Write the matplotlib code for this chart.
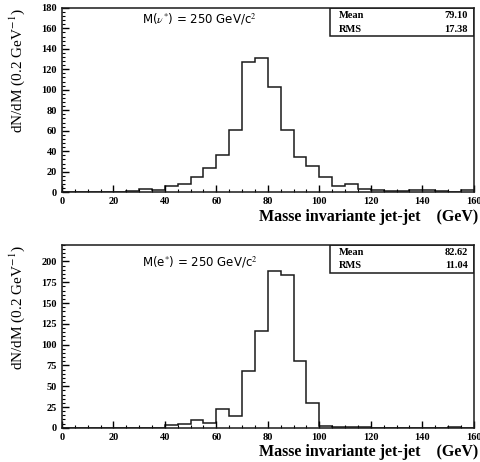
import numpy as np
import matplotlib
matplotlib.use("Agg")
import matplotlib.pyplot as plt
from matplotlib.ticker import MultipleLocator
from matplotlib.patches import Rectangle

plt.rcParams["mathtext.fontset"] = "stix"

# bins of 5 GeV from 0 to 160
bin_edges = np.arange(0, 165, 5)

# top: M(nu*) = 250 GeV
counts_nu = [0, 0, 0, 0, 0.5, 1.3, 3, 2, 6, 8, 15, 23.6, 36, 61, 127, 131,
             103, 61, 34, 25.5, 14.4, 6, 8, 3.6, 2.6, 0.7, 1.6, 2.3, 2, 1, 0.3, 2.6]
# bottom: M(e*) = 250 GeV
counts_e = [0, 0, 0, 0, 0, 0, 0, 0, 3, 4, 9, 6, 22.6, 14.7, 68, 117,
            189, 184, 80, 30, 2.5, 1.5, 1, 0.5, 0, 0, 0, 0, 0, 0, 1, 0]

panels = [
    (counts_nu, r"M($\nu^{*}$) = 250 GeV/c$^{2}$", "79.10", "17.38", 180, 20, 0.935),
    (counts_e, r"M(e$^{*}$) = 250 GeV/c$^{2}$", "82.62", "11.04", 220, 25, 0.907),
]

serif = "Liberation Serif"
fig = plt.figure(figsize=(4.8, 4.62), dpi=100)
axes = [fig.add_axes([0.129, 0.584, 0.858, 0.399]),
        fig.add_axes([0.129, 0.074, 0.858, 0.396])]

for ax, (counts, title, mean, rms, ymax, ystep, ty) in zip(axes, panels):
    ax.stairs(counts, bin_edges, color="#1a1a1a", lw=1.1)
    ax.set_xlim(0, 160)
    ax.set_ylim(0, ymax)
    ax.xaxis.set_major_locator(MultipleLocator(20))
    ax.xaxis.set_minor_locator(MultipleLocator(5))
    ax.yaxis.set_major_locator(MultipleLocator(ystep))
    ax.yaxis.set_minor_locator(MultipleLocator(ystep / 5))
    ax.tick_params(which="both", direction="in", top=False, right=False)
    ax.tick_params(which="major", length=5, width=1, labelsize=7.5)
    ax.tick_params(which="minor", length=2.5, width=0.8)
    for lab in ax.get_xticklabels() + ax.get_yticklabels():
        lab.set_fontfamily(serif)
        lab.set_fontweight("bold")
    for sp in ax.spines.values():
        sp.set_linewidth(1.1)
        sp.set_color("#1a1a1a")

    ax.text(0.194, ty, title, transform=ax.transAxes,
            fontsize=8.5, family="DejaVu Sans", va="center", ha="left")

    box = Rectangle((0.652, 0.845), 0.348, 0.155, transform=ax.transAxes,
                    fill=False, lw=1.1, ec="#1a1a1a")
    ax.add_patch(box)
    ax.text(0.672, 0.96, "Mean", transform=ax.transAxes, fontsize=7.5,
            family=serif, weight="bold", va="center")
    ax.text(0.985, 0.96, mean, transform=ax.transAxes, fontsize=7.5,
            family=serif, weight="bold", va="center", ha="right")
    ax.text(0.672, 0.885, "RMS", transform=ax.transAxes, fontsize=7.5,
            family=serif, weight="bold", va="center")
    ax.text(0.985, 0.885, rms, transform=ax.transAxes, fontsize=7.5,
            family=serif, weight="bold", va="center", ha="right")

    ax.text(-0.108, 0.995, r"dN/dM (0.2 GeV$^{-1}$)", transform=ax.transAxes,
            rotation=90, va="top", ha="center", fontsize=11, family=serif)
    ax.text(1.012, -0.09, "Masse invariante jet-jet    (GeV)",
            transform=ax.transAxes, ha="right", va="top", fontsize=11.5,
            family=serif, weight="bold")

fig.savefig("out.png", dpi=100)
